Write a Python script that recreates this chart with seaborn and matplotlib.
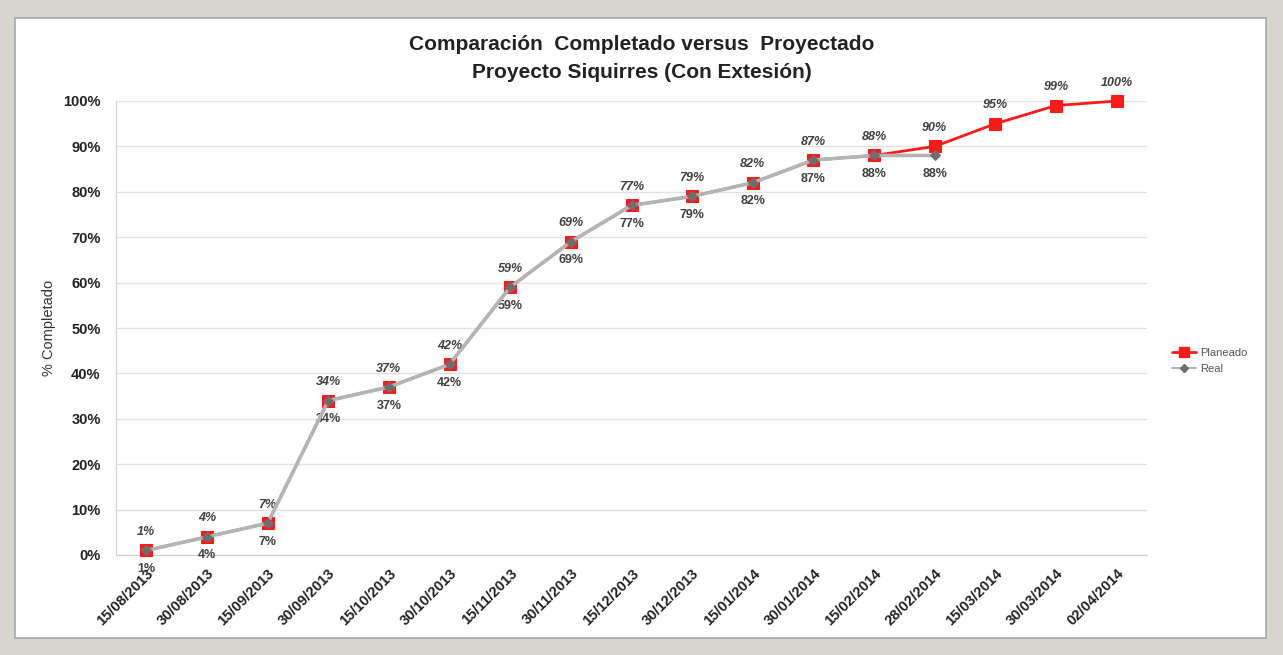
import numpy as np
import pandas as pd
import seaborn as sns
import matplotlib.pyplot as plt
from matplotlib.patches import Rectangle
from matplotlib.lines import Line2D

# Data
fechas = ['15/08/2013', '30/08/2013', '15/09/2013', '30/09/2013', '15/10/2013',
          '30/10/2013', '15/11/2013', '30/11/2013', '15/12/2013', '30/12/2013',
          '15/01/2014', '30/01/2014', '15/02/2014', '28/02/2014', '15/03/2014',
          '30/03/2014', '02/04/2014']
planeado = [1, 4, 7, 34, 37, 42, 59, 69, 77, 79, 82, 87, 88, 90, 95, 99, 100]
real = [1, 4, 7, 34, 37, 42, 59, 69, 77, 79, 82, 87, 88, 88]

df_plan = pd.DataFrame({'fecha': fechas, 'valor': np.array(planeado) / 100})
df_real = pd.DataFrame({'fecha': fechas[:len(real)], 'valor': np.array(real) / 100})

sns.set_style('white')
plt.rcParams['font.family'] = ['Liberation Sans', 'DejaVu Sans']

fig = plt.figure(figsize=[12.83, 6.55], dpi=100)
fig.patch.set_facecolor('#d6d6ce')
# white inner panel
fig.patches.append(Rectangle((15 / 1283, 1 - 638 / 655), 1251 / 1283, 620 / 655,
                             transform=fig.transFigure, facecolor='white',
                             edgecolor='#a8a8a8', linewidth=1.2, zorder=-5))

ax = fig.add_axes([116 / 1283, 1 - 555 / 655, 1031 / 1283, 454 / 655])
ax.set_facecolor('none')
ax.set_zorder(2)

red = '#ff1a1a'
grey = '#b4b4b4'

sns.lineplot(data=df_plan, x='fecha', y='valor', ax=ax, color=red, linewidth=2,
             marker='s', markersize=9, markeredgecolor=red, sort=False, zorder=3)
sns.lineplot(data=df_real, x='fecha', y='valor', ax=ax, color=grey, linewidth=2.6,
             marker='D', markersize=5.5, markerfacecolor='#6e6e6e',
             markeredgecolor='#6e6e6e', sort=False, zorder=4)
for ln in ax.lines:
    ln.set_clip_on(False)

# data labels
for i, v in enumerate(planeado):
    ax.annotate(f'{v}%', (i, v / 100), xytext=(0, 9), textcoords='offset points',
                ha='center', va='bottom', fontsize=9, style='italic',
                color='#404040', fontweight='bold')
for i, v in enumerate(real):
    ax.annotate(f'{v}%', (i, v / 100), xytext=(0, -9), textcoords='offset points',
                ha='center', va='top', fontsize=9, color='#404040', fontweight='bold')

ax.set_xlim(-0.5, len(fechas) - 0.5)
ax.set_ylim(0, 1)
ax.set_yticks(np.arange(0, 1.01, 0.1))
ax.set_yticklabels([f'{int(round(t * 100))}%' for t in np.arange(0, 1.01, 0.1)],
                   fontsize=10.5, fontweight='bold', color='#222222')
ax.set_xticks(range(len(fechas)))
ax.set_xticklabels(fechas, rotation=45, ha='right', rotation_mode='anchor',
                   fontsize=10.5, fontweight='bold', color='#222222')
ax.tick_params(axis='y', length=0, pad=11)
ax.tick_params(axis='x', length=0, pad=8)
ax.yaxis.grid(True, color='#e2e2e2', linewidth=1)
for s in ['top', 'right']:
    ax.spines[s].set_visible(False)
for s in ['left', 'bottom']:
    ax.spines[s].set_color('#d0d0d0')
ax.set_xlabel('')
ax.set_ylabel('% Completado', fontsize=10.5, color='#333333', labelpad=5)

fig.text(0.5, 1 - 45 / 655, 'Comparación  Completado versus  Proyectado',
         ha='center', va='center', fontsize=15, fontweight='bold', color='#222222')
fig.text(0.5, 1 - 73 / 655, 'Proyecto Siquirres (Con Extesión)',
         ha='center', va='center', fontsize=15, fontweight='bold', color='#222222')

handles = [Line2D([], [], color=red, linewidth=2, marker='s', markersize=7),
           Line2D([], [], color=grey, linewidth=1.5, marker='D', markersize=4,
                  markerfacecolor='#6e6e6e', markeredgecolor='#6e6e6e')]
fig.legend(handles, ['Planeado', 'Real'], loc='center left',
           bbox_to_anchor=(1162 / 1283, 1 - 361 / 655), frameon=False,
           fontsize=8, labelcolor='#555555', handlelength=2.2, handletextpad=0.3,
           labelspacing=0.6)

fig.savefig('out.png', dpi=100, facecolor=fig.get_facecolor())
